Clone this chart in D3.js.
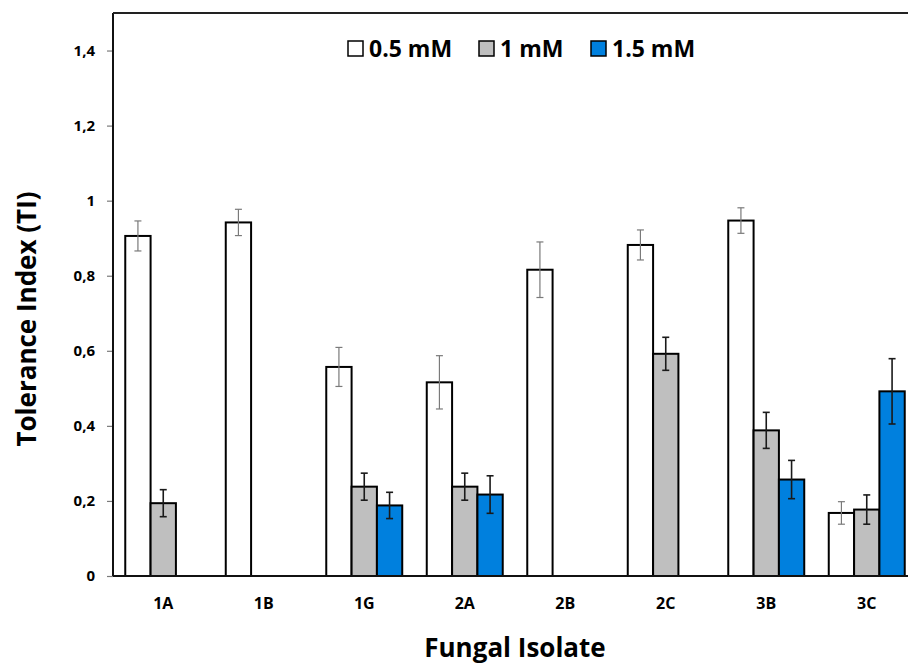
<!DOCTYPE html>
<html>
<head>
<meta charset="utf-8">
<script src="https://cdn.jsdelivr.net/npm/d3@7"></script>
<style>
  body { margin: 0; background: #fff; }
  text { font-family: "Open Sans", "Noto Sans", sans-serif; font-weight: bold; fill: #000; }
</style>
</head>
<body>
<svg id="chart" width="908" height="665"></svg>
<script>
// data
var isolates = ["1A", "1B", "1G", "2A", "2B", "2C", "3B", "3C"];
var seriesNames = ["0.5 mM", "1 mM", "1.5 mM"];
var ti05 = [0.906, 0.942, 0.557, 0.516, 0.816, 0.882, 0.947, 0.168];
var ti10 = [0.194, null, 0.238, 0.238, null, 0.592, 0.388, 0.177];
var ti15 = [null, null, 0.188, 0.217, null, null, 0.257, 0.492];
var err05 = [0.040, 0.035, 0.052, 0.071, 0.074, 0.040, 0.034, 0.030];
var err10 = [0.036, null, 0.036, 0.036, null, 0.044, 0.048, 0.039];
var err15 = [null, null, 0.035, 0.050, null, null, 0.051, 0.087];
var yTicks = [0, 0.2, 0.4, 0.6, 0.8, 1, 1.2, 1.4];

var svg = d3.select("#chart"),
    margin = {top: 13, left: 113, bottom: 89},
    width = +svg.attr("width"),
    height = +svg.attr("height");

// plot area runs a little past the right edge (cropped like the original)
var x0 = d3.scaleBand()
    .domain(isolates)
    .range([margin.left, 917])
    .paddingInner(0.244)
    .paddingOuter(0.122);

var x1 = d3.scaleBand()
    .domain(seriesNames)
    .range([0, x0.bandwidth()]);

var y = d3.scaleLinear()
    .domain([0, 1.5])
    .range([height - margin.bottom, margin.top]);

var fills = d3.scaleOrdinal().domain(seriesNames).range(["#ffffff", "#bfbfbf", "#0080de"]);
var errColor = d3.scaleOrdinal().domain(seriesNames).range(["#7a7a7a", "#1a1a1a", "#1a1a1a"]);

var values = [ti05, ti10, ti15], errors = [err05, err10, err15];
var rows = [];
seriesNames.forEach(function(s, si) {
  isolates.forEach(function(c, ci) {
    if (values[si][ci] != null) rows.push({iso: c, series: s, v: values[si][ci], e: errors[si][ci]});
  });
});

function cx(d) { return x0(d.iso) + x1(d.series) + x1.bandwidth() / 2; }

// bars
svg.append("g").selectAll("rect")
  .data(rows)
  .enter().append("rect")
    .attr("x", function(d) { return x0(d.iso) + x1(d.series); })
    .attr("y", function(d) { return y(d.v); })
    .attr("width", x1.bandwidth())
    .attr("height", function(d) { return y(0) - y(d.v); })
    .attr("fill", function(d) { return fills(d.series); })
    .attr("stroke", "#000")
    .attr("stroke-width", 2);

// error bars
var eb = svg.append("g").selectAll("g")
  .data(rows)
  .enter().append("g")
    .attr("stroke", function(d) { return errColor(d.series); })
    .attr("stroke-width", function(d) { return d.series == "0.5 mM" ? 1.2 : 1.6; });
eb.append("line")
    .attr("x1", cx).attr("x2", cx)
    .attr("y1", function(d) { return y(d.v + d.e); })
    .attr("y2", function(d) { return y(d.v - d.e); });
[1, -1].forEach(function(sign) {
  eb.append("line")
      .attr("x1", function(d) { return cx(d) - 3.5; })
      .attr("x2", function(d) { return cx(d) + 3.5; })
      .attr("y1", function(d) { return y(d.v + sign * d.e); })
      .attr("y2", function(d) { return y(d.v + sign * d.e); });
});

// y axis
var yAxis = svg.append("g")
    .attr("transform", "translate(" + margin.left + ",0)")
    .call(d3.axisLeft(y).tickValues(yTicks).tickSize(6).tickPadding(12)
      .tickFormat(function(d) { return String(d).replace(".", ","); }));
yAxis.select(".domain").remove();
yAxis.selectAll(".tick line").attr("stroke", "#7a7a7a").attr("stroke-width", 1.2);
yAxis.selectAll(".tick text").style("font-size", "15px");

// frame lines: left axis, top border
svg.append("line").attr("x1", margin.left).attr("x2", margin.left)
    .attr("y1", y(1.5)).attr("y2", y(0)).attr("stroke", "#111").attr("stroke-width", 2);
svg.append("line").attr("x1", margin.left).attr("x2", width)
    .attr("y1", y(1.5)).attr("y2", y(1.5)).attr("stroke", "#222").attr("stroke-width", 2);

var xAxis = svg.append("g")
    .attr("transform", "translate(0," + y(0) + ")")
    .call(d3.axisBottom(x0).tickSize(0).tickPadding(22));
xAxis.select(".domain").attr("stroke", "#111").attr("stroke-width", 2)
    .attr("d", "M" + margin.left + ",0H" + width);
xAxis.selectAll(".tick text").style("font-size", "16px");

// axis titles
svg.append("text")
    .attr("x", (margin.left + 917) / 2)
    .attr("y", 657)
    .attr("text-anchor", "middle")
    .style("font-size", "26px")
    .text("Fungal Isolate");

svg.append("text")
    .attr("transform", "translate(36,319) rotate(-90)")
    .attr("text-anchor", "middle")
    .style("font-size", "26px")
    .text("Tolerance Index (TI)");

// legend
var legendX = [348, 479, 591];
var legend = svg.append("g").selectAll("g")
  .data(seriesNames)
  .enter().append("g")
    .attr("transform", function(d, i) { return "translate(" + legendX[i] + ",41)"; });
legend.append("rect")
    .attr("width", 15).attr("height", 15)
    .attr("fill", fills)
    .attr("stroke", "#000").attr("stroke-width", 1.5);
legend.append("text")
    .attr("x", 21).attr("y", 15.5)
    .style("font-size", "23px")
    .text(function(d) { return d; });
</script>
</body>
</html>
